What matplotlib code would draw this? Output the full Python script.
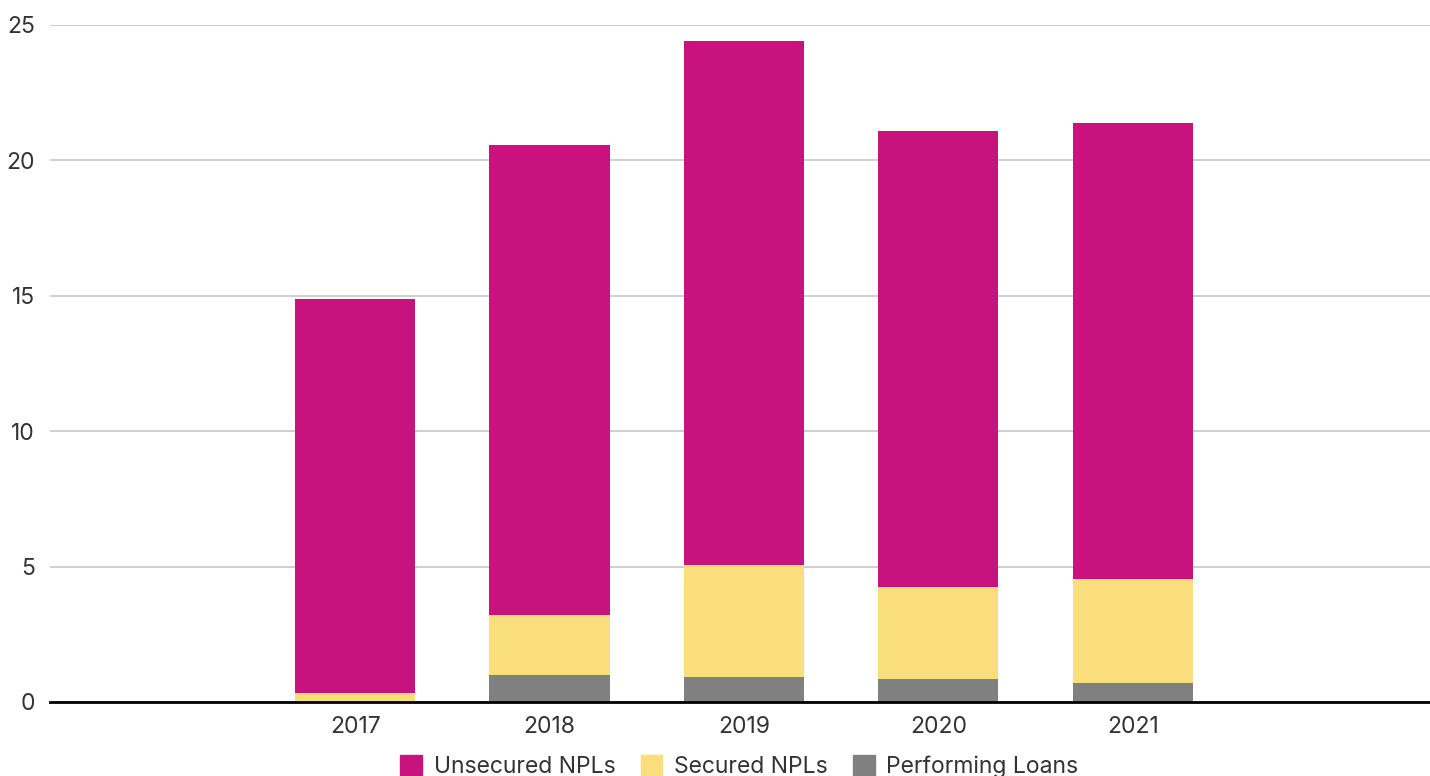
import numpy as np
import matplotlib.pyplot as plt
from matplotlib.patches import Patch

plt.rcParams['font.family'] = ['Inter', 'DejaVu Sans']

years = ['2017', '2018', '2019', '2020', '2021']
performing = [0.0, 1.00, 0.92, 0.85, 0.70]
secured = [0.33, 2.21, 4.14, 3.40, 3.84]
unsecured = [14.55, 17.36, 19.35, 16.84, 16.84]

c_uns = '#C8137F'
c_sec = '#FADD7D'
c_perf = '#808080'

fig = plt.figure(figsize=(14.3, 7.76), dpi=100)
ax = fig.add_axes([0.035, 0.0954, 0.965, 0.8724])

x = np.arange(len(years))
w = 0.618
perf = np.array(performing)
sec = np.array(secured)
ax.bar(x, perf, w, color=c_perf, zorder=3)
ax.bar(x, sec, w, bottom=perf, color=c_sec, zorder=3)
ax.bar(x, unsecured, w, bottom=perf + sec, color=c_uns, zorder=3)

ax.set_xlim(-1.57, 5.53)
ax.set_ylim(0, 25)
ax.set_yticks([0, 5, 10, 15, 20, 25])
ax.set_xticks(x)
ax.set_xticklabels(years)
ax.yaxis.grid(True, color='#CCCCCC', linewidth=1.3, zorder=0)
for s in ['top', 'right', 'left']:
    ax.spines[s].set_visible(False)
ax.spines['bottom'].set_linewidth(2)
ax.spines['bottom'].set_color('black')
ax.spines['bottom'].set_zorder(4)
ax.tick_params(axis='both', length=0, labelsize=16.5, labelcolor='#333333')
ax.tick_params(axis='x', pad=10)
ax.tick_params(axis='y', pad=11)

handles = [Patch(color=c_uns, label='Unsecured NPLs'),
           Patch(color=c_sec, label='Secured NPLs'),
           Patch(color=c_perf, label='Performing Loans')]
fig.legend(handles=handles, loc='center', bbox_to_anchor=(0.517, 0.012),
           ncol=3, frameon=False, fontsize=16.5, handlelength=0.95,
           handleheight=0.95, handletextpad=0.5, columnspacing=1.1,
           labelcolor='#333333')

fig.savefig('out.png', dpi=100)
